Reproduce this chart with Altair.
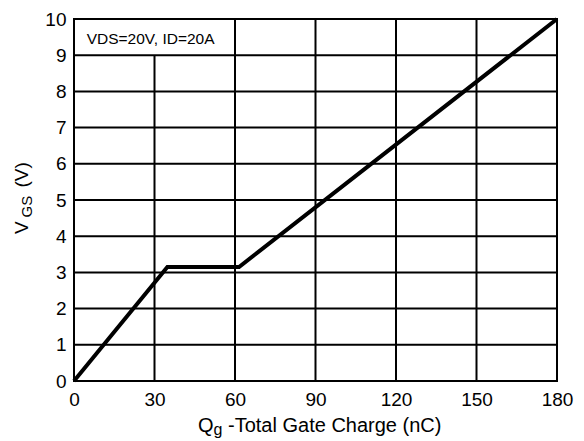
import altair as alt
import pandas as pd

# ---- data ----
qg = [0, 34.8, 61.5, 180]          # Total gate charge (nC)
vgs = [0, 3.15, 3.15, 10]          # V_GS (V)
x_ticks = [0, 30, 60, 90, 120, 150, 180]
y_ticks = [0, 1, 2, 3, 4, 5, 6, 7, 8, 9, 10]
note_text = "VDS=20V, ID=20A"
note_box_right = 60    # annotation box spans 0..60 nC
note_box_bottom = 9    # and 9..10 V

FONT = "Liberation Sans"
W, H = 483, 362

xs = alt.Scale(domain=[x_ticks[0], x_ticks[-1]], nice=False, zero=False)
ys = alt.Scale(domain=[y_ticks[0], y_ticks[-1]], nice=False, zero=False)

x_axis = alt.Axis(values=x_ticks, title=None, grid=False, domain=False, ticks=False,
                  labelPadding=9, labelFontSize=19, labelFont=FONT, labelColor="black",
                  format="d", labelFlush=False)
y_axis = alt.Axis(values=y_ticks, title=None, grid=False, domain=False, ticks=False,
                  labelPadding=8, labelFontSize=19, labelFont=FONT, labelColor="black",
                  format="d", labelFlush=False)

curve = pd.DataFrame({"qg": qg, "vgs": vgs})

vx = x_ticks[1:-1]
vgrid = pd.DataFrame({
    "x": vx,
    "bottom": [y_ticks[0]] * len(vx),
    "top": [note_box_bottom if v < note_box_right else y_ticks[-1] for v in vx],
})
hy = y_ticks[1:-1]
hgrid = pd.DataFrame({"y": hy, "x0": [x_ticks[0]] * len(hy), "x1": [x_ticks[-1]] * len(hy)})

vrules = alt.Chart(vgrid).mark_rule(color="black", strokeWidth=2).encode(
    x=alt.X("x:Q", scale=xs, axis=x_axis),
    y=alt.Y("bottom:Q", scale=ys, axis=y_axis),
    y2="top:Q",
)
hrules = alt.Chart(hgrid).mark_rule(color="black", strokeWidth=2).encode(
    y=alt.Y("y:Q", scale=ys, axis=y_axis),
    x=alt.X("x0:Q", scale=xs, axis=x_axis),
    x2="x1:Q",
)

line = alt.Chart(curve).mark_line(color="black", strokeWidth=4, strokeJoin="miter").encode(
    x=alt.X("qg:Q", scale=xs, axis=x_axis),
    y=alt.Y("vgs:Q", scale=ys, axis=y_axis),
)


def txt(s, x, y, size, angle=None):
    kw = dict(text=s, font=FONT, fontSize=size, color="black", align="left", baseline="alphabetic")
    if angle is not None:
        kw["angle"] = angle
    return alt.Chart(pd.DataFrame({"t": [s]})).mark_text(**kw).encode(
        x=alt.value(x), y=alt.value(y))


note = txt(note_text, 12.7, 25.3, 15.5)

# x-axis title: Q_g -Total Gate Charge (nC)
xt_q = txt("Q", 124, 413, 20)
xt_g = txt("g", 139.6, 416, 16)
xt_rest = txt("-Total Gate Charge (nC)", 154, 413, 20)

# y-axis title: V_GS (V)
yt_v = txt("V", -46.3, 215, 19, angle=270)
yt_gs = txt("GS", -42, 198.5, 15, angle=270)
yt_rest = txt("(V)", -46.3, 168.5, 19, angle=270)

chart = alt.layer(
    vrules, hrules, line, note, xt_q, xt_g, xt_rest, yt_v, yt_gs, yt_rest
).properties(
    width=W, height=H,
    autosize="none",
    padding={"left": 74, "top": 19, "right": 27, "bottom": 60},
    background="white",
).configure_view(stroke="black", strokeWidth=2)

chart.save("out.html", embed_options={"renderer": "svg", "actions": False})
